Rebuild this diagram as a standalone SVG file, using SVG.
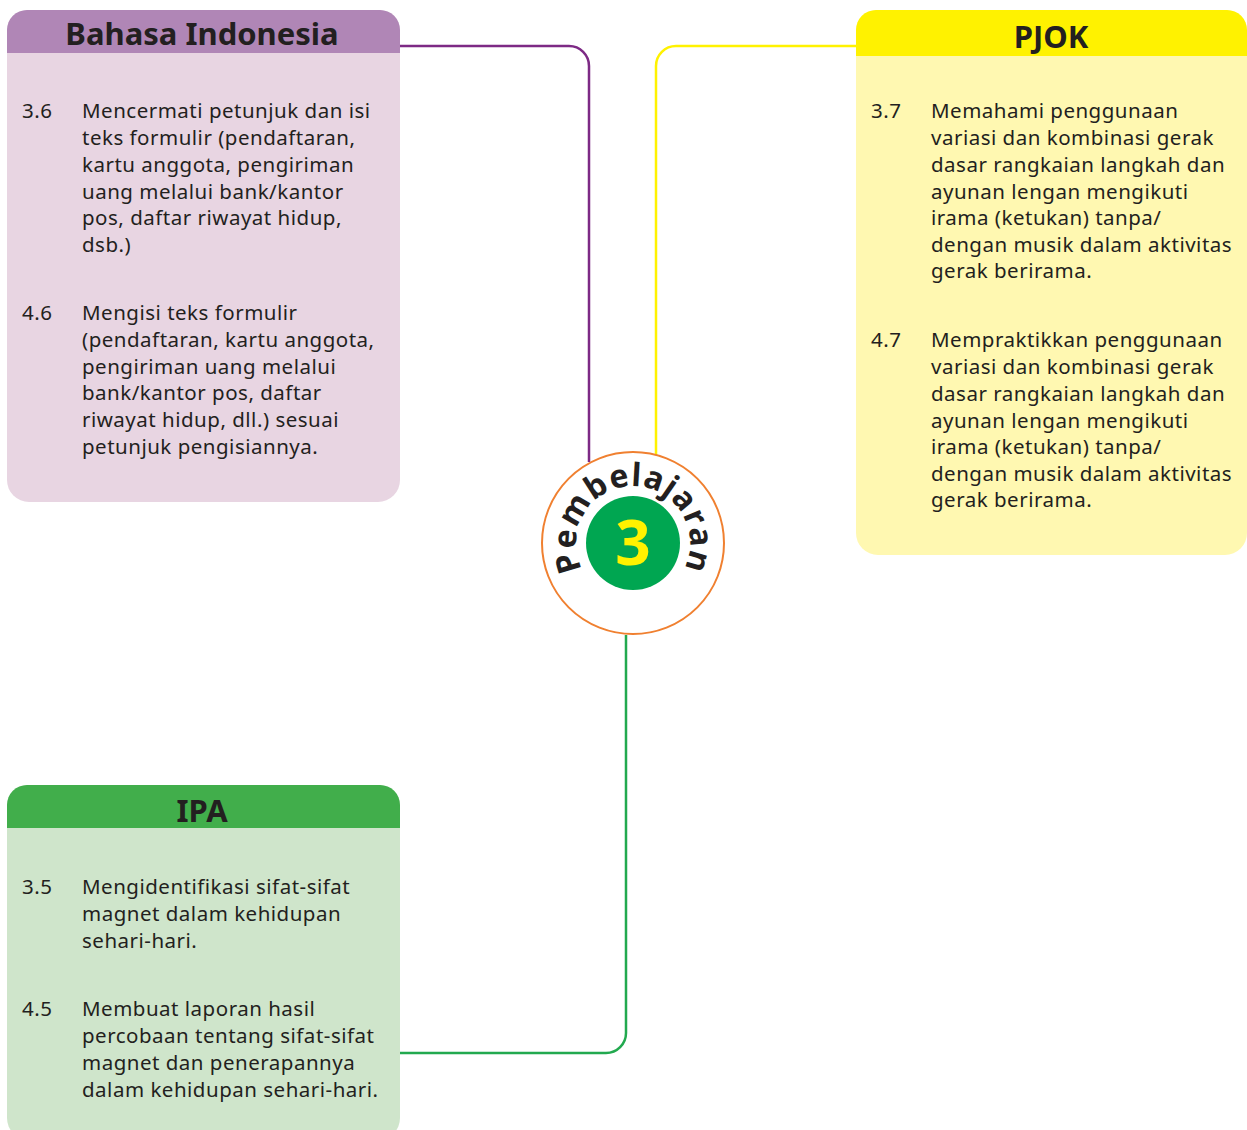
<svg xmlns="http://www.w3.org/2000/svg" width="1247" height="1130" viewBox="0 0 1247 1130">
<style>
.b{font-family:"Noto Sans","Open Sans",sans-serif;font-size:20.5px;letter-spacing:0.5px;fill:#231f20}
.h{font-family:"Noto Sans","Open Sans",sans-serif;font-size:31px;font-weight:bold;fill:#231f20;text-anchor:middle}
.c{fill:none;stroke-width:2.5}
</style>
<defs>
<path id="arc" d="M582.8,570 A57,57 0 1 1 683.2,570"/>
</defs>
<g id="connectors">
<path class="c" stroke="#7d2a85" d="M400,46 H569 A20,20 0 0 1 589,66 V462"/>
<path class="c" stroke="#fff200" d="M856,46 H676 A20,20 0 0 0 656,66 V458"/>
<path class="c" stroke="#22a94f" d="M626,635 V1033 A20,20 0 0 1 606,1053 H400"/>
</g>
<g id="bahasa">
<rect x="7" y="10" width="393" height="492" rx="22" fill="#e8d5e2"/>
<path d="M7,53 V30 A20,20 0 0 1 27,10 H380 A20,20 0 0 1 400,30 V53 Z" fill="#b086b6"/>
<text class="h" x="202" y="45">Bahasa Indonesia</text>
<text class="b" x="22" y="118">3.6</text>
<text class="b" x="82" y="118">Mencermati petunjuk dan isi</text>
<text class="b" x="82" y="145">teks formulir (pendaftaran,</text>
<text class="b" x="82" y="172">kartu anggota, pengiriman</text>
<text class="b" x="82" y="199">uang melalui bank/kantor</text>
<text class="b" x="82" y="225">pos, daftar riwayat hidup,</text>
<text class="b" x="82" y="252">dsb.)</text>
<text class="b" x="22" y="320">4.6</text>
<text class="b" x="82" y="320">Mengisi teks formulir</text>
<text class="b" x="82" y="347">(pendaftaran, kartu anggota,</text>
<text class="b" x="82" y="374">pengiriman uang melalui</text>
<text class="b" x="82" y="400">bank/kantor pos, daftar</text>
<text class="b" x="82" y="427">riwayat hidup, dll.) sesuai</text>
<text class="b" x="82" y="454">petunjuk pengisiannya.</text>
</g>
<g id="pjok">
<rect x="856" y="10" width="391" height="545" rx="22" fill="#fff8b1"/>
<path d="M856,56 V30 A20,20 0 0 1 876,10 H1227 A20,20 0 0 1 1247,30 V56 Z" fill="#fff200"/>
<text class="h" x="1051" y="48">PJOK</text>
<text class="b" x="871" y="118">3.7</text>
<text class="b" x="931" y="118">Memahami penggunaan</text>
<text class="b" x="931" y="145">variasi dan kombinasi gerak</text>
<text class="b" x="931" y="172">dasar rangkaian langkah dan</text>
<text class="b" x="931" y="199">ayunan lengan mengikuti</text>
<text class="b" x="931" y="225">irama (ketukan) tanpa/</text>
<text class="b" x="931" y="252">dengan musik dalam aktivitas</text>
<text class="b" x="931" y="278">gerak berirama.</text>
<text class="b" x="871" y="347">4.7</text>
<text class="b" x="931" y="347">Mempraktikkan penggunaan</text>
<text class="b" x="931" y="374">variasi dan kombinasi gerak</text>
<text class="b" x="931" y="401">dasar rangkaian langkah dan</text>
<text class="b" x="931" y="428">ayunan lengan mengikuti</text>
<text class="b" x="931" y="454">irama (ketukan) tanpa/</text>
<text class="b" x="931" y="481">dengan musik dalam aktivitas</text>
<text class="b" x="931" y="507">gerak berirama.</text>
</g>
<g id="ipa">
<rect x="7" y="785" width="393" height="355" rx="22" fill="#cfe5cb"/>
<path d="M7,828 V805 A20,20 0 0 1 27,785 H380 A20,20 0 0 1 400,805 V828 Z" fill="#41ae4b"/>
<text class="h" x="202" y="822">IPA</text>
<text class="b" x="22" y="894">3.5</text>
<text class="b" x="82" y="894">Mengidentifikasi sifat-sifat</text>
<text class="b" x="82" y="921">magnet dalam kehidupan</text>
<text class="b" x="82" y="948">sehari-hari.</text>
<text class="b" x="22" y="1016">4.5</text>
<text class="b" x="82" y="1016">Membuat laporan hasil</text>
<text class="b" x="82" y="1043">percobaan tentang sifat-sifat</text>
<text class="b" x="82" y="1070">magnet dan penerapannya</text>
<text class="b" x="82" y="1097">dalam kehidupan sehari-hari.</text>
</g>
<g id="pembelajaran">
<circle cx="633" cy="543" r="91" fill="#fff" stroke="#f08030" stroke-width="2"/>
<circle cx="633" cy="543" r="47" fill="#00a651"/>
<text x="633" y="565" font-family="Noto Sans, sans-serif" font-size="62" font-weight="bold" fill="#fff200" text-anchor="middle">3</text>
<text font-family="Noto Sans, sans-serif" font-size="32" font-weight="bold" fill="#231f20" letter-spacing="1"><textPath href="#arc" startOffset="50%" text-anchor="middle">Pembelajaran</textPath></text>
</g>
</svg>
